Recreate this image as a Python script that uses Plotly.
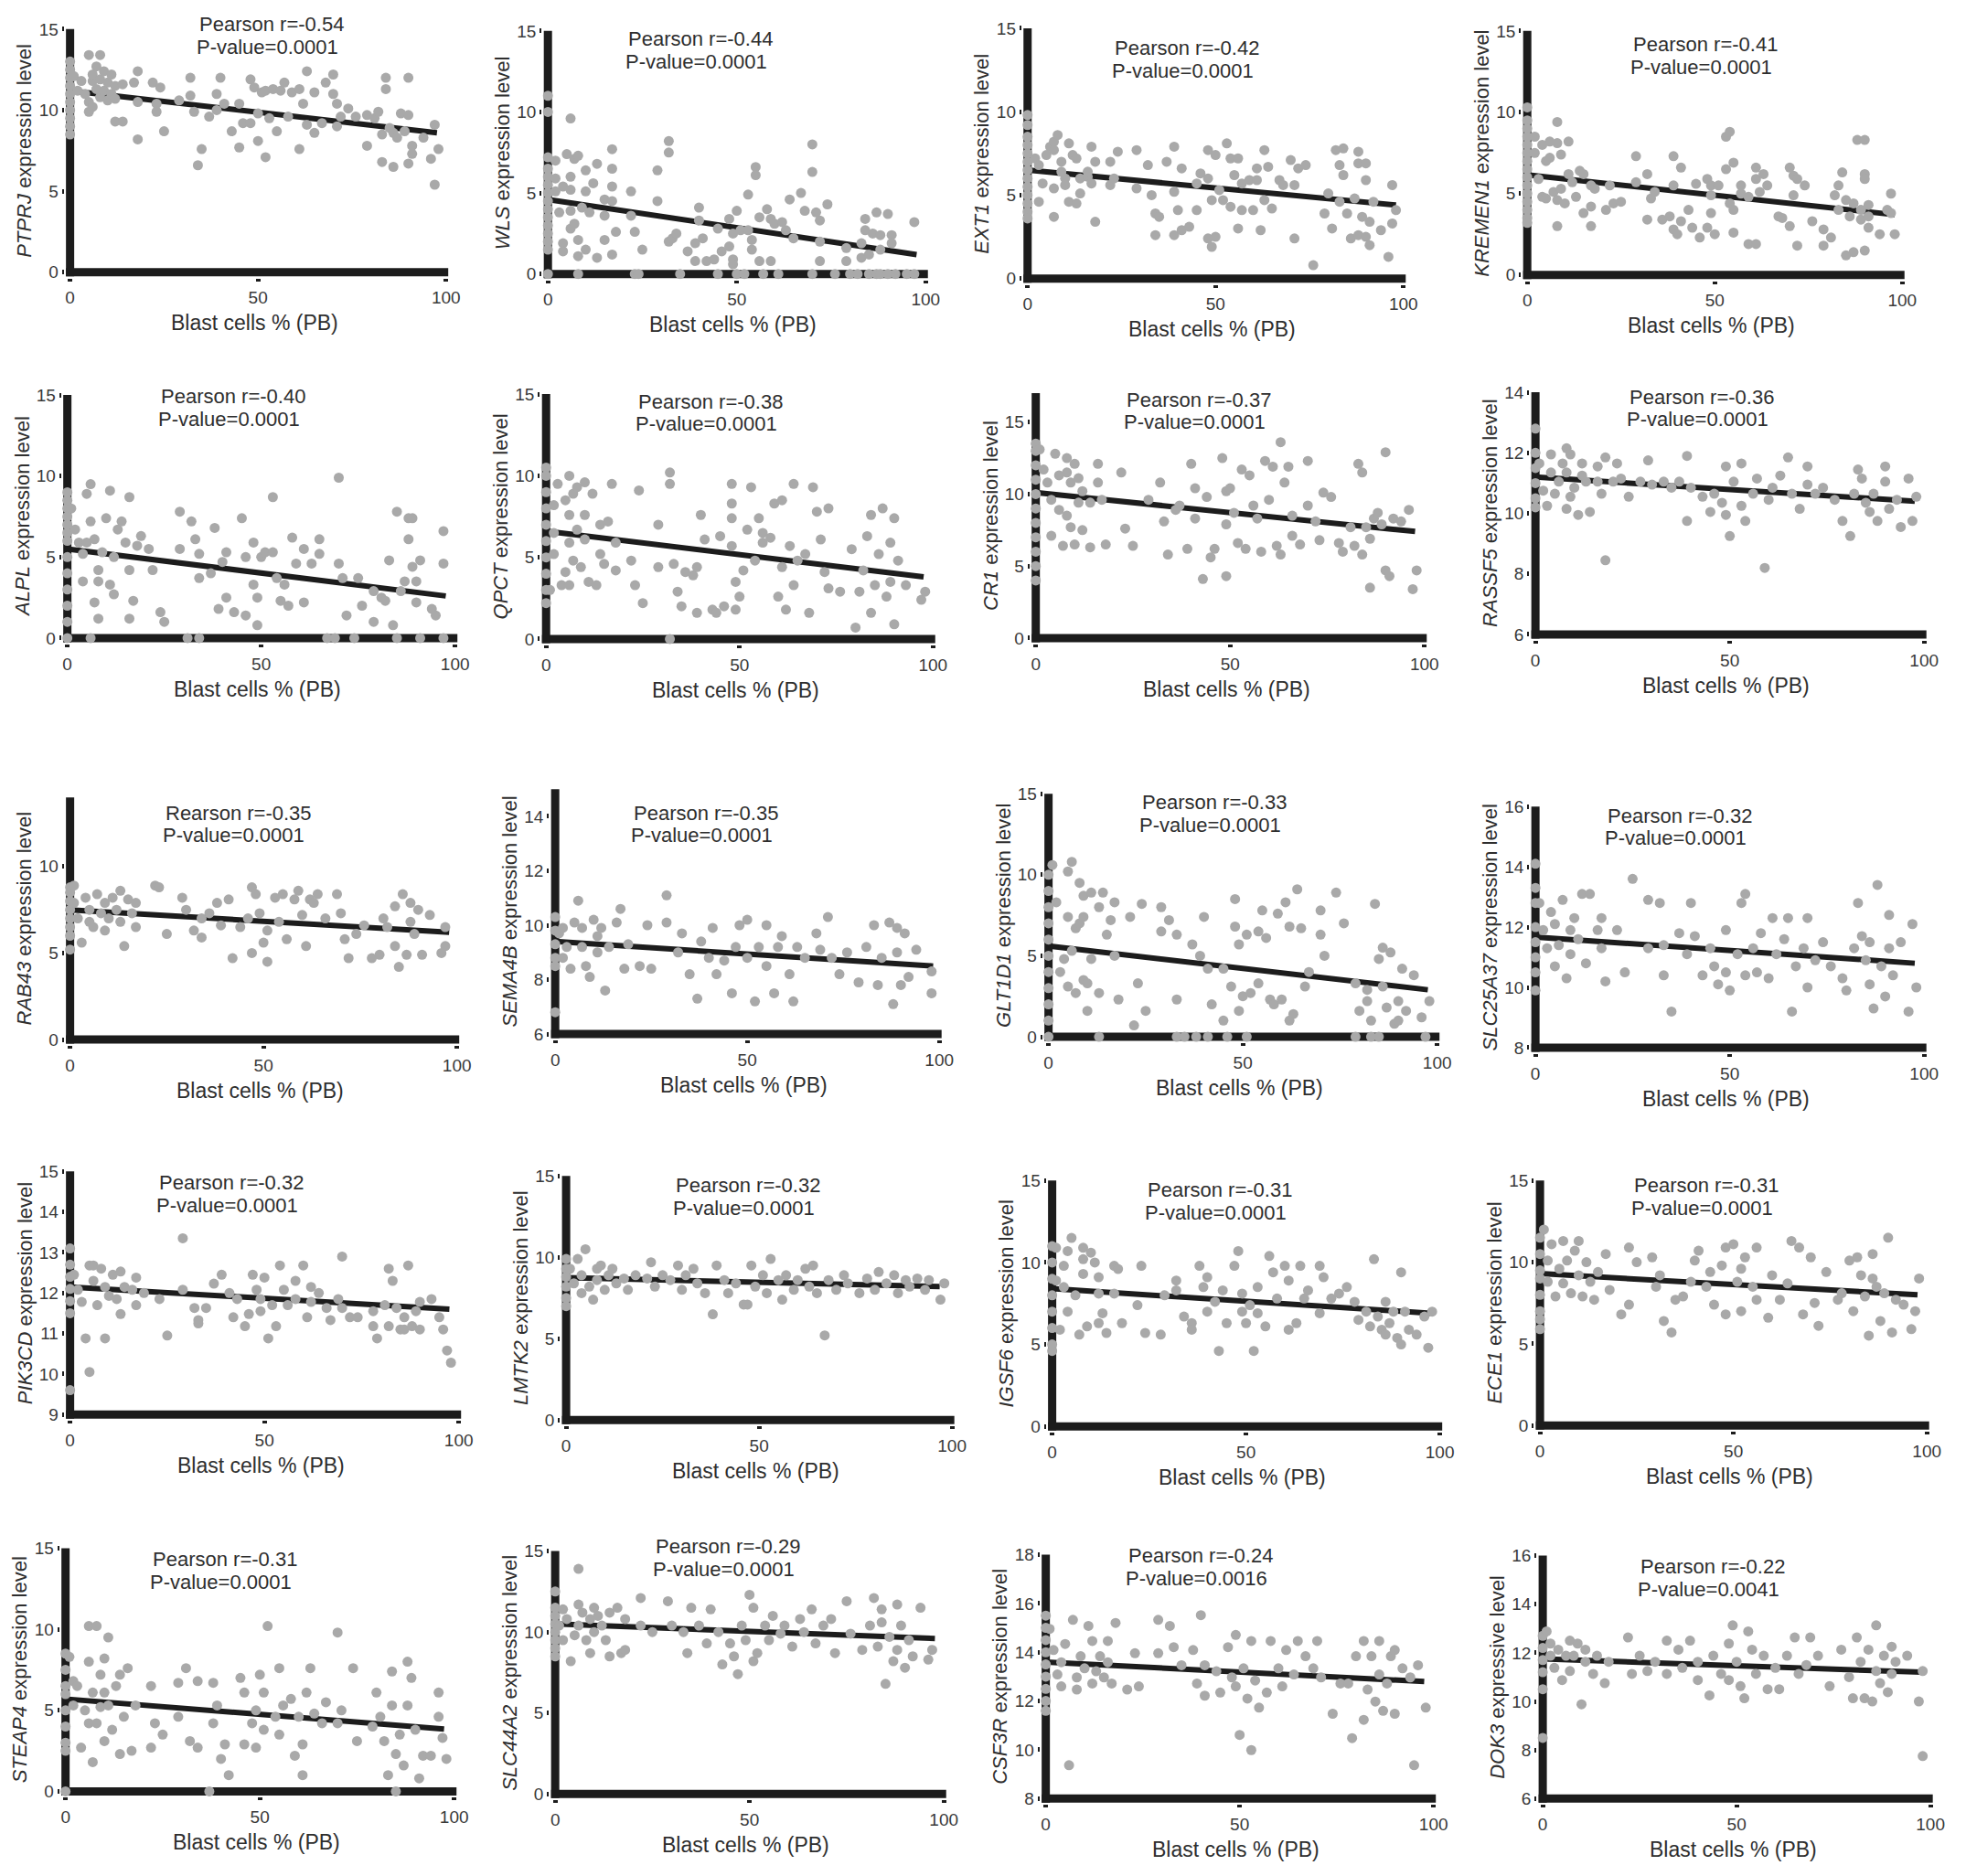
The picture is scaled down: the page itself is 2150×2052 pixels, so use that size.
import plotly.graph_objects as go

W, H = 2150, 2052

genes = ["PTPRJ", "WLS", "EXT1", "KREMEN1",
         "ALPL", "QPCT", "CR1", "RASSF5",
         "RAB43", "SEMA4B", "GLT1D1", "SLC25A37",
         "PIK3CD", "LMTK2", "IGSF6", "ECE1",
         "STEAP4", "SLC44A2", "CSF3R", "DOK3"]
y_suffix = ["expression level"] * 19 + ["expressive level"]
r_labels = ["Pearson r=-0.54", "Pearson r=-0.44", "Pearson r=-0.42", "Pearson r=-0.41",
            "Pearson r=-0.40", "Pearson r=-0.38", "Pearson r=-0.37", "Pearson r=-0.36",
            "Rearson r=-0.35", "Pearson r=-0.35", "Pearson r=-0.33", "Pearson r=-0.32",
            "Pearson r=-0.32", "Pearson r=-0.32", "Pearson r=-0.31", "Pearson r=-0.31",
            "Pearson r=-0.31", "Pearson r=-0.29", "Pearson r=-0.24", "Pearson r=-0.22"]
p_labels = ["P-value=0.0001"] * 18 + ["P-value=0.0016", "P-value=0.0041"]
x_ticks = [0, 50, 100]
x_title = "Blast cells % (PB)"

y_min = [0, 0, 0, 0, 0, 0, 0, 6, 0, 6, 0, 8, 9, 0, 0, 0, 0, 0, 8, 6]
y_max = [15, 15, 15, 15, 15, 15, 17, 14, 14, 15, 15, 16, 15, 15, 15, 15, 15, 15, 18, 16]
y_step = [5, 5, 5, 5, 5, 5, 5, 2, 5, 2, 5, 2, 1, 5, 5, 5, 5, 5, 2, 2]

# regression lines: y at x=0, end x, y at end x
fit_y0 = [11.2, 4.6, 6.5, 6.15, 5.5, 6.6, 10.1, 11.2, 7.5, 9.4,
          5.6, 11.67, 12.15, 8.75, 8.4, 9.3, 5.7, 10.5, 13.6, 11.75]
fit_x1 = [97.6, 97.6, 98, 98, 97.6, 97.6, 97.6, 97.6, 98, 98.4,
          97.6, 97.6, 97.6, 96.8, 97.6, 97.6, 97.4, 97.7, 97.6, 97.6]
fit_y1 = [8.6, 1.2, 4.4, 3.7, 2.6, 3.8, 7.4, 10.4, 6.2, 8.5,
          2.9, 10.8, 11.6, 8.2, 6.9, 8.0, 3.85, 9.6, 12.8, 11.2]

PTPRJ_pts = [(0, 13.0), (0, 12.5), (0, 12.0), (0, 11.5), (0, 11.0), (0, 10.5), (0, 10.0), (0, 9.5), (0, 9.0), (0, 8.5),
             (1, 12.1), (2, 11.2), (3, 11.8), (5, 13.4), (8, 13.4), (7, 12.7), (4, 11.0), (5, 10.5), (6, 11.8), (6, 12.2),
             (7, 11.3), (8, 10.8), (8, 11.9), (9, 12.4), (9, 11.2), (10, 10.6), (10, 11.7), (11, 12.2), (11, 11.0), (12, 10.7),
             (12, 11.5), (6, 10.2), (5, 9.9), (12, 9.3), (14, 9.3), (14, 11.6), (17, 11.7), (18, 12.4), (18, 10.5), (18, 8.2),
             (22, 11.7), (24, 11.4), (23, 10.4), (23, 9.9), (25, 8.7), (29, 10.6), (32, 12.0), (32, 10.9), (33, 9.9), (34, 6.6),
             (35, 7.6), (37, 9.6), (39, 11.0), (40, 12.0), (39, 10.0), (41, 10.4), (43, 8.7), (45, 10.4), (45, 7.7), (46, 9.2),
             (48, 11.9), (48, 9.2), (49, 11.4), (50, 9.8), (50, 8.1), (52, 7.1), (51, 11.1), (52, 11.2), (54, 11.3), (56, 11.2),
             (57, 11.7), (53, 9.5), (55, 8.7), (58, 9.6), (59, 11.1), (61, 11.3), (61, 7.6), (62, 10.4), (63, 12.4), (63, 9.1),
             (65, 11.1), (65, 8.6), (67, 9.2), (68, 11.7), (70, 12.2), (70, 11.0), (71, 10.4), (71, 9.0), (72, 9.6), (74, 10.1),
             (76, 9.6), (79, 9.7), (79, 7.8), (81, 9.5), (82, 9.9), (83, 8.5), (83, 6.8), (84, 12.0), (84, 11.3), (85, 8.9),
             (86, 8.6), (86, 6.5), (87, 8.3), (88, 9.8), (89, 8.7), (90, 12.0), (90, 9.7), (91, 7.8), (91, 7.3), (90, 6.7),
             (94, 8.3), (96, 7.0), (97, 9.1), (98, 7.6), (97, 5.4)]

WLS_pts = [(0, 11.0), (0, 10.0), (0, 7.2), (0, 6.5), (0, 6.0), (0, 5.5), (0, 5.0), (0, 4.5), (0, 4.0), (0, 3.5),
           (0, 3.0), (0, 2.5), (0, 2.0), (0, 1.5), (0, 0), (2, 7.0), (2, 5.9), (2, 5.1), (3, 3.8), (4, 1.9),
           (4, 1.4), (4, 5.4), (6, 5.2), (5, 7.4), (6, 9.6), (7, 7.1), (6, 6.0), (6, 3.9), (6, 2.8), (7, 3.1),
           (8, 7.3), (8, 2.1), (8, 1.1), (9, 4.1), (10, 6.4), (10, 1.5), (10, 5.1), (11, 3.8), (12, 5.6), (13, 6.8),
           (13, 1.0), (15, 3.6), (15, 2.1), (15, 4.6), (17, 6.5), (17, 5.4), (17, 7.7), (17, 4.5), (17, 1.2), (18, 2.6),
           (22, 5.1), (22, 3.6), (23, 2.6), (25, 1.5), (29, 6.4), (29, 4.5), (32, 8.2), (32, 7.5), (32, 2.0), (33, 2.2),
           (34, 2.5), (37, 1.4), (39, 1.9), (40, 4.1), (40, 3.3), (39, 0.8), (41, 2.2), (42, 0.8), (44, 0.9), (45, 2.8),
           (46, 1.4), (48, 3.4), (48, 1.7), (49, 2.5), (49, 0.9), (49, 0.6), (50, 3.9), (51, 2.7), (53, 4.9), (53, 2.7),
           (54, 1.5), (54, 2.1), (55, 6.6), (55, 6.1), (56, 3.5), (56, 0.8), (58, 4.0), (59, 0.8), (59, 3.4), (60, 3.1),
           (62, 3.2), (63, 2.7), (64, 4.6), (65, 2.2), (67, 5.0), (68, 3.9), (70, 8.0), (70, 6.3), (71, 3.8), (72, 2.0),
           (72, 3.3), (72, 0.8), (74, 4.3), (79, 1.6), (79, 0.8), (83, 1.9), (83, 1.0), (84, 3.4), (84, 2.7), (85, 1.2),
           (86, 2.5), (87, 3.8), (88, 2.4), (88, 1.5), (90, 3.7), (91, 2.4), (91, 1.9), (97, 3.2),
           (8, 0), (23, 0), (24, 0), (35, 0), (45, 0), (50, 0), (52, 0), (57, 0), (61, 0), (70, 0),
           (76, 0), (80, 0), (82, 0), (85, 0), (87, 0), (88, 0), (90, 0), (92, 0), (95, 0), (97, 0)]

EXT1_pts = [(0, 9.8), (0, 9.2), (0, 8.5), (0, 8.0), (0, 7.5), (0, 7.0), (0, 6.5), (0, 6.0), (0, 5.5), (0, 5.0),
            (0, 4.5), (0, 4.0), (0, 3.6), (2, 7.2), (3, 4.6), (3, 6.8), (4, 5.7), (5, 7.4), (6, 7.9), (7, 7.7),
            (7, 5.4), (7, 3.7), (7, 8.2), (8, 8.6), (9, 7.0), (9, 6.4), (10, 6.0), (10, 5.6), (11, 8.1), (12, 7.4),
            (11, 4.6), (13, 7.2), (13, 4.5), (14, 5.1), (14, 6.0), (16, 6.1), (16, 6.4), (17, 7.9), (17, 5.7), (18, 7.0),
            (18, 3.4), (22, 7.0), (22, 5.6), (23, 6.0), (24, 7.6), (29, 7.7), (29, 5.4), (32, 6.8), (33, 5.0), (34, 3.9),
            (34, 2.6), (35, 3.7), (37, 7.0), (39, 7.9), (39, 5.2), (39, 2.6), (40, 4.1), (41, 2.9), (41, 6.6), (43, 3.1),
            (45, 4.1), (45, 5.7), (46, 6.3), (48, 6.0), (48, 7.7), (48, 2.4), (49, 4.7), (49, 1.9), (50, 7.4), (50, 2.5),
            (51, 5.3), (52, 4.7), (53, 8.1), (54, 7.2), (54, 4.3), (55, 6.2), (56, 7.2), (56, 3.0), (57, 4.1), (57, 5.7),
            (59, 5.9), (60, 4.1), (61, 5.9), (61, 6.6), (62, 2.9), (63, 7.7), (63, 4.7), (64, 6.7), (65, 4.2), (67, 5.9),
            (68, 5.6), (70, 7.1), (71, 5.6), (71, 2.4), (72, 6.6), (74, 6.8), (76, 0.8), (79, 3.9), (80, 5.1), (81, 3.0),
            (82, 7.7), (83, 6.8), (83, 4.6), (84, 6.2), (84, 7.8), (85, 3.9), (86, 2.4), (87, 4.8), (88, 6.9), (88, 2.6),
            (88, 7.6), (89, 3.7), (90, 2.5), (90, 6.9), (90, 5.9), (91, 3.4), (91, 2.0), (92, 4.6), (94, 2.9), (96, 1.3),
            (97, 5.6), (97, 3.3), (98, 4.1)]

KREMEN1_pts = [(0, 10.3), (0, 9.5), (0, 9.0), (0, 8.5), (0, 8.0), (0, 7.5), (0, 7.0), (0, 6.5), (0, 6.0), (0, 5.5),
               (0, 5.0), (0, 4.5), (0, 4.0), (0, 3.5), (0, 3.2), (2, 8.5), (2, 7.5), (3, 5.9), (4, 4.8), (4, 8.0),
               (5, 7.0), (5, 4.7), (6, 8.2), (6, 7.2), (7, 5.1), (8, 9.4), (8, 3.0), (8, 8.1), (8, 4.6), (9, 7.4),
               (9, 5.3), (10, 4.4), (11, 8.2), (11, 6.2), (12, 5.7), (13, 4.8), (14, 6.4), (15, 3.8), (15, 6.2), (17, 3.0),
               (17, 5.5), (17, 4.2), (18, 5.3), (21, 4.0), (22, 5.5), (23, 4.4), (25, 4.5), (29, 7.3), (29, 5.7), (32, 6.2),
               (32, 3.4), (33, 4.7), (34, 5.1), (36, 3.4), (38, 3.6), (39, 7.3), (39, 5.5), (39, 2.8), (40, 2.5), (41, 6.6),
               (41, 3.3), (43, 4.0), (44, 2.9), (45, 5.6), (46, 2.3), (48, 5.9), (48, 2.9), (49, 4.9), (49, 3.8), (49, 5.5),
               (50, 2.5), (51, 5.5), (53, 8.5), (53, 6.5), (54, 8.8), (55, 6.9), (54, 4.4), (55, 2.6), (55, 4.0), (57, 5.0),
               (57, 5.5), (59, 4.8), (59, 1.9), (61, 1.9), (61, 6.6), (61, 5.9), (62, 5.1), (63, 6.2), (64, 5.5), (67, 3.6),
               (68, 3.5), (70, 6.6), (70, 3.0), (71, 4.9), (71, 6.1), (72, 1.8), (72, 5.9), (74, 5.5), (76, 3.3), (79, 2.8),
               (79, 1.8), (81, 2.3), (82, 4.9), (83, 4.0), (83, 5.5), (84, 6.3), (85, 4.6), (85, 1.2), (86, 3.6), (87, 1.4),
               (87, 4.4), (88, 8.3), (89, 3.4), (89, 4.0), (90, 8.3), (90, 6.2), (90, 1.5), (90, 5.9), (91, 4.3), (91, 2.9),
               (91, 3.6), (94, 2.5), (96, 4.0), (97, 5.0), (98, 2.5), (97, 3.8)]

ALPL_pts = [(0, 9.0), (0, 8.5), (0, 8.0), (0, 7.5), (0, 7.0), (0, 6.5), (0, 6.0), (0, 5.0), (0, 4.0), (0, 3.0),
            (0, 2.0), (0, 1.0), (0, 0), (1, 8.0), (2, 6.7), (3, 5.9), (4, 5.2), (4, 3.5), (5, 5.9), (5, 8.9),
            (6, 9.5), (6, 7.2), (7, 6.1), (7, 2.2), (8, 4.2), (8, 1.2), (8, 3.5), (9, 5.3), (10, 7.4), (11, 9.1),
            (11, 3.3), (12, 5.0), (12, 2.7), (13, 6.7), (14, 7.2), (15, 5.9), (16, 8.7), (16, 1.2), (16, 4.2), (17, 2.3),
            (18, 5.7), (19, 6.3), (21, 5.5), (22, 4.2), (24, 1.6), (25, 1.0), (29, 7.8), (29, 5.5), (32, 7.2), (33, 6.1),
            (34, 5.2), (34, 3.7), (37, 4.0), (38, 6.8), (39, 1.8), (40, 4.7), (41, 2.5), (41, 5.3), (43, 1.6), (45, 7.4),
            (46, 1.4), (46, 5.0), (48, 5.9), (48, 3.3), (49, 2.5), (49, 0.8), (50, 5.0), (51, 5.3), (53, 8.7), (53, 5.3),
            (54, 3.7), (55, 2.3), (56, 3.3), (57, 2.0), (58, 6.2), (59, 4.6), (61, 2.2), (61, 5.5), (63, 4.6), (65, 6.1),
            (65, 5.2), (70, 9.9), (70, 4.6), (71, 3.7), (72, 1.4), (75, 3.7), (76, 2.0), (79, 2.9), (79, 1.0), (81, 2.5),
            (82, 2.3), (83, 4.8), (84, 0.8), (85, 7.8), (86, 2.9), (87, 3.5), (88, 7.4), (88, 6.1), (89, 7.4), (89, 4.4),
            (90, 3.5), (90, 2.2), (91, 4.8), (94, 1.8), (95, 1.4), (97, 4.6), (97, 6.6),
            (6, 0), (31, 0), (34, 0), (67, 0), (69, 0), (74, 0), (85, 0), (91, 0), (97, 0)]

QPCT_pts = [(0, 10.5), (0, 10.0), (0, 9.0), (0, 8.0), (0, 7.0), (0, 6.0), (0, 5.0), (0, 4.0), (0, 3.0), (0, 2.2),
            (1, 3.0), (2, 8.2), (2, 6.5), (2, 5.2), (3, 9.5), (4, 3.3), (5, 8.5), (5, 4.1), (6, 7.6), (6, 5.9),
            (6, 10.0), (6, 3.3), (7, 8.9), (7, 4.8), (8, 6.7), (8, 9.3), (9, 4.4), (10, 7.6), (10, 6.1), (10, 9.6),
            (11, 3.5), (12, 8.9), (13, 3.3), (14, 5.2), (14, 7.0), (15, 4.6), (16, 7.2), (17, 9.5), (18, 5.9), (18, 4.2),
            (22, 4.8), (23, 3.3), (24, 9.1), (25, 2.2), (29, 7.0), (29, 4.4), (32, 10.2), (32, 9.5), (33, 4.6), (34, 2.9),
            (35, 2.0), (36, 4.1), (38, 3.9), (39, 1.6), (39, 4.4), (40, 7.6), (41, 6.1), (43, 1.8), (44, 1.6), (45, 6.3),
            (46, 2.0), (48, 9.5), (48, 7.4), (48, 8.3), (48, 5.7), (49, 3.5), (49, 1.8), (50, 2.6), (51, 4.2), (52, 6.7),
            (53, 9.3), (54, 4.8), (55, 7.4), (56, 6.5), (56, 5.9), (58, 6.2), (59, 8.3), (60, 2.6), (61, 8.5), (61, 4.4),
            (62, 1.8), (63, 5.7), (64, 9.5), (64, 3.3), (65, 4.8), (67, 5.2), (68, 1.6), (69, 9.3), (70, 7.8), (71, 6.1),
            (72, 4.1), (73, 8.0), (73, 3.1), (76, 2.9), (79, 5.5), (80, 0.7), (81, 2.9), (82, 4.2), (83, 6.3), (84, 1.6),
            (84, 7.6), (85, 3.3), (86, 5.2), (87, 8.0), (88, 2.6), (89, 5.9), (89, 3.5), (90, 7.4), (90, 0.9), (91, 4.8),
            (93, 3.3), (97, 2.4), (98, 2.9), (32, 0)]

CR1_pts = [(0, 13.5), (0, 13.0), (0, 12.0), (0, 11.0), (0, 10.0), (0, 9.0), (0, 8.0), (0, 7.0), (0, 6.0), (0, 5.0),
           (0, 4.0), (1, 13.1), (2, 11.7), (3, 10.8), (4, 9.6), (4, 7.1), (5, 12.8), (6, 11.3), (6, 8.9), (7, 6.4),
           (8, 12.5), (8, 11.5), (8, 8.5), (9, 10.8), (9, 7.7), (10, 12.1), (10, 6.5), (11, 11.1), (11, 9.4), (12, 10.2),
           (12, 7.5), (14, 9.4), (14, 6.3), (16, 12.1), (16, 10.8), (17, 9.6), (18, 6.5), (22, 11.5), (23, 7.6), (25, 6.4),
           (29, 9.6), (32, 10.8), (33, 8.1), (34, 5.8), (36, 8.9), (37, 9.2), (39, 6.2), (40, 12.1), (41, 10.4), (41, 8.3),
           (43, 4.1), (44, 9.8), (45, 5.6), (46, 6.2), (48, 12.5), (49, 10.2), (49, 4.3), (49, 7.9), (50, 10.4), (51, 8.7),
           (52, 6.6), (53, 11.7), (54, 6.2), (55, 11.3), (56, 9.2), (57, 8.3), (58, 6.0), (59, 12.3), (60, 9.6), (61, 11.9),
           (62, 6.4), (63, 5.8), (63, 13.6), (64, 10.8), (65, 11.9), (66, 8.5), (66, 7.1), (68, 6.5), (70, 12.3), (70, 9.2),
           (72, 8.1), (73, 6.8), (74, 10.1), (76, 9.8), (78, 6.6), (79, 6.0), (81, 7.7), (82, 6.4), (83, 12.1), (84, 11.5),
           (84, 5.8), (85, 7.7), (86, 3.5), (86, 6.9), (87, 8.3), (88, 8.7), (89, 7.9), (90, 12.9), (90, 4.7), (91, 4.3),
           (92, 8.3), (94, 8.1), (96, 8.9), (98, 4.7), (97, 3.4)]

RASSF5_pts = [(0, 12.8), (0, 12.0), (0, 11.5), (0, 11.0), (0, 10.5), (0, 10.2), (1, 11.65), (2, 10.75), (3, 10.25), (4, 11.35),
              (4, 11.95), (5, 10.65), (6, 11.05), (7, 11.65), (8, 12.15), (8, 10.15), (8, 11.35), (9, 11.95), (9, 10.55), (10, 10.85),
              (11, 9.95), (12, 11.65), (12, 11.25), (13, 11.05), (14, 10.05), (16, 11.55), (16, 11.05), (17, 10.65), (18, 8.45), (18, 11.85),
              (20, 11.05), (21, 11.65), (22, 11.15), (24, 10.55), (27, 11.05), (29, 11.75), (30, 10.95), (33, 11.05), (35, 10.85), (37, 11.05),
              (39, 11.9), (39, 9.75), (40, 10.85), (43, 10.55), (45, 10.05), (46, 10.65), (48, 10.35), (49, 9.95), (49, 11.55), (50, 9.25),
              (51, 11.05), (53, 10.25), (53, 11.65), (54, 9.75), (56, 10.65), (57, 11.15), (59, 8.2), (60, 10.45), (61, 10.85), (63, 11.25),
              (65, 11.85), (66, 10.65), (68, 10.15), (70, 10.95), (70, 11.55), (72, 10.65), (74, 10.85), (77, 10.45), (79, 9.75), (81, 9.25),
              (82, 10.65), (83, 11.45), (84, 11.15), (85, 10.35), (86, 10.05), (87, 10.65), (88, 9.75), (90, 11.05), (90, 11.55), (91, 10.15),
              (93, 10.45), (94, 9.55), (96, 11.15), (97, 9.75), (98, 10.55)]

RAB43_pts = [(0, 8.8), (0, 8.5), (0, 8.0), (0, 7.5), (0, 7.0), (0, 6.5), (0, 6.0), (0, 5.2), (1, 8.9), (1, 7.9),
             (2, 7.0), (3, 5.6), (4, 8.2), (5, 6.8), (5, 7.5), (6, 6.5), (7, 8.4), (8, 7.3), (9, 6.3), (9, 7.9),
             (10, 7.0), (11, 8.2), (12, 7.5), (13, 6.8), (13, 8.6), (14, 5.4), (15, 8.1), (16, 7.3), (17, 6.5), (17, 7.9),
             (22, 8.9), (23, 8.8), (25, 6.1), (29, 8.2), (30, 7.5), (32, 6.3), (34, 5.9), (34, 7.0), (36, 7.3), (38, 7.9),
             (39, 6.6), (41, 8.1), (42, 4.7), (44, 6.5), (46, 7.0), (47, 5.0), (47, 8.8), (48, 8.4), (49, 7.3), (50, 5.6),
             (51, 6.3), (51, 4.5), (53, 8.2), (54, 6.8), (55, 8.4), (56, 5.8), (58, 8.1), (59, 8.6), (60, 7.2), (61, 5.4),
             (62, 8.1), (63, 7.9), (64, 8.4), (66, 7.0), (69, 8.4), (70, 7.3), (71, 5.8), (72, 4.7), (74, 6.1), (76, 6.6),
             (78, 4.7), (80, 4.9), (81, 7.0), (82, 6.5), (84, 5.4), (84, 7.7), (85, 4.2), (86, 8.4), (87, 4.9), (88, 6.8),
             (88, 7.9), (89, 6.1), (90, 7.5), (91, 4.9), (93, 7.2), (96, 5.0), (97, 6.5), (97, 5.4)]

SEMA4B_pts = [(0, 10.3), (0, 9.8), (0, 9.3), (0, 8.8), (0, 8.5), (0, 6.8), (1, 9.7), (2, 8.8), (2, 9.9), (3, 9.2),
              (4, 8.4), (5, 10.1), (6, 10.9), (7, 9.2), (7, 9.9), (8, 8.5), (9, 8.1), (10, 10.2), (11, 9.6), (11, 9.0),
              (12, 9.9), (13, 7.6), (14, 9.2), (16, 10.1), (17, 10.6), (18, 8.4), (19, 9.3), (22, 8.5), (24, 10.0), (25, 8.4),
              (29, 11.1), (29, 10.1), (32, 9.0), (33, 9.7), (35, 8.2), (37, 7.3), (38, 9.4), (40, 8.8), (41, 9.9), (42, 8.2),
              (44, 8.7), (46, 7.5), (47, 9.2), (48, 10.0), (50, 8.8), (50, 10.2), (52, 7.2), (53, 9.2), (55, 10.0), (55, 8.5),
              (57, 7.5), (58, 9.2), (59, 9.6), (61, 8.2), (62, 7.2), (63, 9.2), (65, 8.8), (68, 9.7), (69, 9.1), (71, 10.3),
              (72, 8.8), (74, 8.2), (76, 9.0), (79, 7.9), (81, 9.2), (83, 10.0), (84, 7.8), (85, 8.8), (87, 10.1), (88, 7.1),
              (89, 9.0), (89, 9.9), (90, 7.8), (91, 9.7), (92, 8.1), (94, 9.1), (98, 7.5), (98, 8.3)]

GLT1D1_pts = [(0, 10.0), (0, 9.0), (0, 8.0), (0, 7.0), (0, 6.0), (0, 5.0), (0, 4.0), (0, 3.0), (0, 2.0), (0, 1.0),
              (0, 0), (1, 10.6), (2, 8.3), (3, 4.0), (4, 4.8), (5, 10.2), (5, 7.4), (5, 3.1), (6, 10.8), (6, 5.3),
              (7, 6.7), (7, 2.7), (8, 9.5), (8, 7.0), (9, 8.7), (9, 3.5), (9, 7.4), (10, 1.6), (10, 3.3), (11, 8.9),
              (11, 4.8), (13, 8.0), (13, 2.7), (14, 8.9), (15, 6.3), (16, 7.2), (17, 8.3), (17, 5.0), (18, 2.3), (21, 7.4),
              (22, 0.7), (23, 3.3), (24, 8.2), (25, 1.6), (29, 8.0), (29, 6.5), (31, 7.2), (33, 6.3), (33, 2.3), (37, 5.7),
              (39, 5.0), (40, 7.4), (41, 4.2), (42, 2.0), (45, 4.2), (45, 1.0), (47, 3.1), (48, 8.5), (48, 6.8), (49, 1.6),
              (49, 5.7), (50, 2.5), (51, 6.3), (52, 2.7), (54, 3.3), (54, 6.5), (55, 7.8), (56, 6.1), (57, 2.3), (58, 2.0),
              (59, 7.6), (60, 2.3), (61, 8.3), (62, 1.0), (62, 6.8), (63, 1.4), (64, 9.1), (65, 6.7), (66, 3.1), (67, 4.0),
              (70, 7.8), (70, 6.3), (71, 5.0), (74, 8.9), (76, 7.0), (79, 3.3), (80, 1.6), (82, 2.2), (82, 2.9), (83, 1.0),
              (84, 8.2), (85, 4.8), (86, 5.5), (86, 3.1), (87, 1.8), (88, 5.2), (89, 0.8), (90, 2.2), (90, 1.0), (91, 4.2),
              (92, 1.6), (94, 3.8), (96, 1.2), (98, 2.2),
              (13, 0), (33, 0), (35, 0), (38, 0), (41, 0), (46, 0), (51, 0), (79, 0), (83, 0), (85, 0), (97, 0)]

SLC25A37_pts = [(0, 14.1), (0, 13.3), (0, 12.8), (0, 12.0), (0, 11.5), (0, 11.0), (0, 10.5), (0, 9.9), (1, 12.8), (2, 11.9),
                (3, 11.3), (4, 12.5), (5, 10.7), (5, 12.1), (6, 11.4), (7, 12.9), (8, 10.3), (9, 11.9), (9, 11.1), (10, 12.3),
                (11, 11.6), (12, 13.1), (13, 10.8), (14, 13.1), (16, 11.9), (17, 11.3), (17, 12.3), (18, 10.2), (21, 11.9), (23, 10.5),
                (25, 13.6), (29, 12.9), (29, 11.3), (32, 12.8), (33, 11.4), (33, 10.4), (35, 9.2), (37, 11.8), (39, 11.1), (40, 12.8),
                (41, 11.7), (43, 10.4), (45, 11.3), (46, 10.7), (47, 10.1), (49, 11.9), (49, 10.5), (50, 9.9), (52, 11.1), (53, 12.8),
                (54, 10.4), (54, 13.1), (56, 11.3), (57, 10.5), (58, 11.8), (60, 10.3), (61, 12.3), (62, 11.1), (64, 11.6), (65, 12.3),
                (66, 9.2), (67, 10.7), (69, 11.3), (70, 12.3), (70, 10.0), (72, 10.9), (74, 11.5), (76, 10.7), (79, 10.3), (80, 9.9),
                (82, 11.3), (83, 12.8), (84, 11.7), (85, 10.9), (86, 10.1), (86, 11.5), (87, 9.3), (88, 13.4), (89, 10.7), (90, 9.7),
                (91, 12.4), (91, 11.3), (92, 10.4), (94, 11.5), (96, 9.2), (97, 12.1), (98, 10.0)]

PIK3CD_pts = [(0, 13.1), (0, 12.7), (0, 12.4), (0, 12.1), (0, 11.8), (0, 11.5), (0, 9.6), (1, 12.45), (2, 12.08), (3, 11.78),
              (4, 10.88), (5, 12.68), (5, 10.05), (6, 12.3), (6, 12.68), (7, 11.7), (8, 12.6), (9, 12.15), (9, 10.88), (10, 11.93),
              (11, 12.45), (12, 11.85), (13, 11.48), (13, 12.53), (14, 12.15), (16, 12.08), (17, 12.38), (17, 11.7), (19, 12.0), (23, 11.85),
              (25, 10.95), (29, 13.35), (29, 12.08), (32, 11.63), (33, 11.33), (33, 11.25), (35, 11.63), (37, 12.23), (39, 12.45), (41, 12.0),
              (42, 11.4), (43, 11.85), (45, 11.18), (46, 11.48), (47, 12.45), (48, 12.08), (49, 11.85), (49, 11.55), (50, 12.38), (51, 10.88),
              (52, 11.7), (53, 11.18), (54, 12.68), (55, 12.08), (56, 11.7), (58, 12.3), (58, 11.85), (60, 12.68), (61, 11.4), (62, 12.15),
              (62, 11.78), (64, 12.0), (66, 11.63), (67, 11.33), (69, 11.85), (70, 12.9), (70, 11.63), (72, 11.4), (74, 11.4), (78, 11.55),
              (78, 11.18), (79, 10.88), (81, 11.7), (82, 12.6), (82, 11.18), (83, 12.3), (84, 11.63), (85, 11.1), (86, 11.4), (86, 11.1),
              (87, 12.68), (88, 11.18), (89, 11.55), (90, 11.78), (90, 11.1), (93, 11.85), (95, 11.4), (96, 11.1), (97, 10.58), (98, 10.28)]

LMTK2_pts = [(0, 9.9), (0, 9.3), (0, 8.8), (0, 8.2), (0, 7.5), (0, 7.0), (1, 9.3), (2, 8.4), (3, 9.9), (4, 7.8),
             (4, 8.9), (5, 10.5), (6, 8.2), (7, 7.4), (8, 9.3), (8, 8.6), (9, 9.5), (10, 8.0), (11, 8.9), (12, 9.3),
             (13, 8.4), (15, 8.7), (16, 8.0), (18, 8.9), (21, 8.7), (22, 9.7), (23, 8.2), (25, 8.9), (27, 8.6), (29, 9.5),
             (30, 8.0), (31, 8.9), (33, 9.3), (34, 8.4), (36, 7.8), (38, 6.5), (39, 9.5), (41, 8.6), (42, 7.8), (44, 8.4),
             (46, 7.1), (47, 7.1), (48, 9.5), (49, 8.2), (51, 8.9), (52, 7.8), (53, 9.9), (55, 8.6), (56, 7.4), (57, 8.9),
             (59, 8.0), (60, 8.6), (62, 9.3), (63, 8.2), (64, 9.5), (65, 7.8), (67, 5.2), (68, 8.6), (70, 8.0), (72, 8.9),
             (73, 8.4), (76, 7.8), (78, 8.7), (80, 8.0), (81, 9.1), (83, 8.4), (85, 8.9), (86, 7.8), (88, 8.6), (89, 8.2),
             (91, 8.7), (93, 8.0), (94, 8.6), (97, 7.4), (98, 8.4)]

IGSF6_pts = [(0, 11.0), (0, 10.0), (0, 9.0), (0, 8.0), (0, 7.0), (0, 6.0), (0, 5.0), (0, 4.6), (1, 10.9), (1, 8.9),
             (2, 5.9), (3, 9.8), (3, 8.5), (4, 10.7), (4, 7.0), (5, 11.5), (6, 8.0), (7, 5.6), (8, 10.2), (8, 10.9),
             (8, 9.3), (9, 6.1), (10, 10.6), (11, 10.0), (12, 8.1), (12, 6.3), (12, 9.1), (13, 6.9), (14, 5.7), (16, 9.8),
             (16, 8.1), (17, 9.6), (18, 6.3), (22, 7.4), (23, 9.8), (24, 5.7), (28, 5.6), (29, 8.0), (32, 8.3), (32, 8.9),
             (34, 6.7), (36, 6.3), (36, 5.9), (38, 9.8), (39, 8.5), (40, 7.0), (40, 9.1), (42, 7.6), (43, 4.6), (44, 8.3),
             (45, 6.3), (47, 9.8), (48, 10.7), (49, 7.0), (49, 8.1), (50, 6.3), (51, 7.4), (52, 4.6), (53, 8.5), (53, 6.9),
             (55, 6.1), (56, 10.4), (57, 9.4), (58, 7.8), (60, 9.8), (61, 5.9), (61, 8.9), (63, 6.3), (64, 9.8), (65, 7.8),
             (66, 8.3), (69, 6.9), (69, 9.8), (70, 9.1), (72, 7.8), (74, 8.1), (76, 8.5), (78, 7.6), (79, 6.5), (81, 7.0),
             (82, 6.1), (83, 10.2), (84, 6.7), (85, 5.9), (86, 7.6), (86, 5.6), (87, 6.3), (88, 7.0), (89, 5.4), (90, 9.4),
             (90, 5.0), (91, 7.0), (92, 5.9), (94, 5.6), (96, 6.7), (97, 4.8), (98, 7.0)]

ECE1_pts = [(0, 11.5), (0, 10.5), (0, 9.5), (0, 9.0), (0, 8.0), (0, 7.0), (0, 6.5), (0, 5.9), (1, 12.0), (2, 10.1),
            (2, 8.8), (3, 11.1), (4, 7.9), (5, 9.6), (6, 11.3), (6, 8.7), (7, 10.1), (8, 8.1), (9, 10.7), (10, 9.2),
            (10, 11.3), (11, 7.9), (12, 10.0), (13, 8.8), (14, 7.7), (15, 9.4), (17, 10.5), (18, 8.3), (21, 6.8), (23, 10.9),
            (23, 7.4), (25, 10.0), (29, 10.3), (30, 8.5), (31, 9.2), (32, 6.4), (34, 5.7), (35, 7.7), (37, 7.9), (39, 8.8),
            (40, 10.1), (41, 10.7), (43, 8.5), (44, 9.4), (45, 7.4), (47, 9.8), (48, 6.8), (48, 10.9), (50, 11.1), (51, 8.8),
            (52, 7.0), (52, 9.6), (53, 10.3), (55, 8.5), (56, 10.9), (56, 7.7), (59, 6.6), (60, 9.2), (62, 7.7), (64, 8.7),
            (65, 11.3), (67, 10.9), (68, 6.8), (70, 10.3), (71, 7.5), (72, 6.1), (74, 9.4), (77, 7.7), (78, 8.1), (80, 10.1),
            (81, 7.0), (82, 10.3), (83, 9.2), (84, 7.9), (85, 5.5), (86, 10.5), (86, 9.0), (87, 8.5), (88, 6.4), (89, 8.1),
            (90, 11.5), (91, 5.7), (92, 7.7), (94, 7.4), (96, 5.9), (97, 7.0), (98, 9.0)]

STEAP4_pts = [(0, 8.5), (0, 7.5), (0, 6.5), (0, 6.0), (0, 5.0), (0, 4.0), (0, 3.0), (0, 2.5), (0, 0), (1, 8.3),
              (2, 6.8), (2, 5.3), (3, 6.5), (4, 2.7), (5, 5.0), (6, 10.2), (6, 4.2), (6, 8.0), (7, 1.8), (7, 6.1),
              (8, 10.2), (8, 4.2), (9, 7.2), (9, 5.2), (10, 6.1), (10, 8.2), (10, 3.1), (11, 9.5), (11, 5.3), (12, 3.8),
              (13, 6.5), (14, 2.3), (14, 7.2), (15, 4.6), (16, 7.6), (17, 2.5), (18, 5.3), (22, 6.5), (22, 2.7), (23, 4.2),
              (25, 3.5), (29, 6.7), (29, 4.6), (31, 7.6), (32, 3.1), (34, 2.7), (34, 6.8), (38, 6.7), (38, 4.2), (39, 5.3),
              (40, 2.0), (41, 2.9), (42, 1.0), (45, 7.0), (46, 6.1), (46, 2.9), (48, 4.2), (49, 2.7), (49, 5.0), (50, 7.2),
              (51, 3.8), (51, 6.1), (52, 10.2), (54, 4.6), (55, 7.6), (55, 3.5), (56, 5.3), (58, 5.7), (59, 2.2), (60, 4.6),
              (61, 1.0), (61, 2.9), (62, 6.1), (63, 7.6), (64, 4.8), (66, 4.2), (67, 5.5), (70, 9.8), (70, 4.2), (71, 5.0),
              (74, 7.6), (75, 3.1), (79, 4.0), (80, 6.1), (81, 4.6), (82, 3.1), (83, 1.0), (84, 7.4), (84, 5.3), (85, 2.3),
              (86, 3.5), (87, 1.6), (88, 8.0), (88, 5.3), (89, 7.0), (90, 3.8), (91, 0.8), (92, 2.2), (94, 2.2), (96, 4.6),
              (96, 6.1), (97, 3.3), (98, 2.0), (37, 0), (85, 0)]

SLC44A2_pts = [(0, 12.5), (0, 11.5), (0, 11.0), (0, 10.5), (0, 10.0), (0, 9.5), (0, 9.0), (0, 8.5), (1, 10.4), (2, 11.4),
               (2, 9.5), (3, 10.8), (4, 8.2), (5, 9.8), (6, 11.7), (6, 13.9), (6, 10.4), (7, 11.2), (8, 9.5), (9, 10.8),
               (9, 8.7), (10, 11.5), (10, 10.0), (11, 11.0), (12, 10.4), (13, 9.5), (14, 11.2), (14, 8.5), (16, 11.5), (17, 8.7),
               (18, 10.8), (18, 8.9), (22, 12.1), (22, 10.4), (25, 10.0), (29, 11.9), (30, 10.4), (33, 10.0), (34, 8.7), (35, 11.5),
               (37, 10.4), (39, 9.3), (40, 11.4), (42, 10.0), (43, 8.0), (45, 9.3), (46, 8.5), (47, 7.4), (48, 10.4), (49, 9.5),
               (50, 12.3), (51, 8.2), (51, 11.5), (52, 8.7), (54, 10.4), (55, 9.5), (56, 11.0), (58, 9.9), (59, 10.4), (61, 9.1),
               (63, 10.8), (64, 10.0), (66, 11.4), (67, 9.3), (69, 10.4), (71, 10.8), (72, 8.7), (75, 11.9), (76, 9.9), (79, 8.9),
               (81, 10.4), (82, 12.1), (83, 9.1), (84, 10.6), (84, 11.4), (85, 6.8), (86, 9.7), (87, 8.2), (88, 11.7), (88, 8.9),
               (89, 10.4), (90, 7.8), (91, 9.5), (92, 8.5), (94, 11.5), (96, 8.3), (97, 8.9)]

CSF3R_pts = [(0, 15.5), (0, 15.0), (0, 14.5), (0, 14.0), (0, 13.5), (0, 13.0), (0, 12.5), (0, 12.0), (0, 11.6), (1, 14.96),
             (2, 14.09), (3, 13.09), (4, 12.6), (4, 13.59), (5, 14.34), (6, 9.37), (7, 15.33), (8, 12.97), (8, 12.47), (9, 13.84),
             (10, 13.34), (11, 15.08), (12, 12.72), (12, 14.46), (13, 13.22), (14, 13.84), (15, 12.97), (16, 13.59), (16, 14.46), (17, 12.72),
             (18, 15.2), (21, 12.47), (23, 13.96), (24, 12.6), (29, 15.33), (29, 13.96), (32, 15.08), (33, 14.21), (35, 13.47), (38, 14.09),
             (39, 12.72), (40, 15.52), (41, 13.47), (41, 12.22), (44, 13.22), (45, 12.35), (47, 14.21), (48, 12.97), (49, 12.6), (49, 14.71),
             (50, 10.61), (51, 13.34), (52, 12.1), (53, 9.99), (53, 14.46), (54, 12.84), (55, 11.73), (57, 12.35), (58, 14.46), (60, 13.34),
             (61, 12.6), (62, 14.09), (64, 13.09), (65, 14.46), (67, 13.84), (69, 13.34), (70, 14.46), (71, 12.97), (74, 11.48), (76, 12.72),
             (78, 12.72), (79, 10.48), (80, 13.84), (82, 11.23), (82, 14.46), (83, 12.47), (84, 13.84), (85, 11.98), (86, 14.46), (86, 13.09),
             (87, 11.6), (88, 12.72), (89, 13.84), (90, 11.48), (90, 14.09), (92, 13.34), (94, 12.97), (95, 9.37), (96, 13.47), (98, 11.73)]

DOK3_pts = [(0, 12.7), (0, 12.2), (0, 11.7), (0, 11.2), (0, 10.5), (0, 8.5), (1, 12.88), (2, 11.88), (2, 12.38), (3, 11.38),
            (4, 12.13), (5, 10.88), (6, 11.88), (7, 12.5), (7, 11.25), (8, 11.88), (9, 12.38), (10, 9.88), (11, 11.63), (11, 12.13),
            (13, 11.13), (14, 11.88), (16, 10.75), (17, 11.63), (22, 12.63), (23, 11.13), (25, 11.88), (27, 11.25), (29, 11.63), (32, 12.5),
            (32, 11.13), (35, 12.13), (36, 11.38), (38, 12.5), (40, 11.63), (40, 10.88), (43, 10.25), (44, 11.88), (46, 11.13), (48, 12.38),
            (48, 10.88), (49, 13.13), (50, 11.63), (51, 10.63), (52, 10.13), (53, 12.88), (54, 12.13), (55, 11.13), (57, 11.88), (58, 10.5),
            (60, 11.38), (61, 10.5), (63, 11.88), (65, 12.63), (66, 11.13), (68, 11.5), (69, 12.63), (71, 11.88), (74, 10.63), (77, 12.13),
            (79, 11.0), (80, 10.13), (81, 12.63), (82, 11.63), (83, 10.13), (84, 12.13), (85, 10.0), (86, 11.25), (86, 13.13), (87, 10.75),
            (88, 11.88), (89, 10.38), (90, 12.25), (90, 11.13), (91, 11.63), (94, 11.88), (97, 10.0), (98, 7.75), (98, 11.25)]

points = [PTPRJ_pts, WLS_pts, EXT1_pts, KREMEN1_pts,
          ALPL_pts, QPCT_pts, CR1_pts, RASSF5_pts,
          RAB43_pts, SEMA4B_pts, GLT1D1_pts, SLC25A37_pts,
          PIK3CD_pts, LMTK2_pts, IGSF6_pts, ECE1_pts,
          STEAP4_pts, SLC44A2_pts, CSF3R_pts, DOK3_pts]

# panel geometry in page pixels: x of 0, x of 100, y of top value, y of bottom value
panel_px = [(77, 490, 28, 295), (602, 1017, 30, 297), (1129, 1542, 27, 302), (1678, 2090, 30, 298),
            (74, 500, 430, 697), (600, 1025, 429, 698), (1138, 1565, 428, 697), (1687, 2114, 427, 693),
            (77, 502, 872, 1138), (610, 1032, 863, 1132), (1152, 1579, 868, 1135), (1687, 2114, 882, 1147),
            (77, 504, 1283, 1550), (622, 1046, 1288, 1556), (1156, 1582, 1293, 1563), (1692, 2117, 1293, 1562),
            (72, 499, 1697, 1964), (610, 1037, 1700, 1967), (1149, 1575, 1704, 1972), (1695, 2121, 1705, 1972)]
# left x and centre y of the "Pearson" line
stat_px = [(217, 23), (688, 39), (1223, 49), (1792, 45),
           (175, 431), (699, 437), (1236, 435), (1788, 432),
           (180, 889), (694, 889), (1253, 877), (1764, 892),
           (173, 1295), (740, 1298), (1259, 1303), (1793, 1298),
           (166, 1709), (718, 1695), (1238, 1705), (1800, 1717)]

FONT = "Liberation Sans, Arial, sans-serif"
TXT = "#2e2e2e"
AXC = "#1c1c1c"
PAD = 6

fig = go.Figure()
layout = {}
shapes = []
annotations = []

for i, gene in enumerate(genes):
    n = i + 1
    sfx = "" if n == 1 else str(n)
    x0, x100, ytop, ybot = panel_px[i]
    lo, hi, step = y_min[i], y_max[i], y_step[i]
    ppx = (x100 - x0) / 100.0
    ppy = (ybot - ytop) / float(hi - lo)

    fig.add_trace(go.Scatter(
        x=[0, fit_x1[i]], y=[fit_y0[i], fit_y1[i]], mode="lines",
        line=dict(color=AXC, width=6), xaxis="x" + sfx, yaxis="y" + sfx,
        showlegend=False, hoverinfo="skip"))
    fig.add_trace(go.Scatter(
        x=[p[0] for p in points[i]], y=[p[1] for p in points[i]], mode="markers",
        marker=dict(size=11, color="#a9a9a9", line=dict(width=0)),
        xaxis="x" + sfx, yaxis="y" + sfx, showlegend=False))

    tickfont = dict(family=FONT, size=19, color="#3a3a3a")
    layout["xaxis" + sfx] = dict(
        domain=[(x0 - PAD) / W, (x100 + PAD) / W],
        range=[-PAD / ppx, 100 + PAD / ppx], anchor="y" + sfx,
        tickvals=x_ticks, showgrid=False, zeroline=False, showline=False,
        ticks="outside", ticklen=3, tickwidth=5, tickcolor=AXC,
        tickfont=tickfont, ticklabelstandoff=2)
    layout["yaxis" + sfx] = dict(
        domain=[1 - (ybot + PAD) / H, 1 - (ytop - PAD) / H],
        range=[lo - PAD / ppy, hi + PAD / ppy], anchor="x" + sfx,
        tickvals=list(range(lo, hi + 1, step)), showgrid=False, zeroline=False,
        showline=False, ticks="outside", ticklen=2, tickwidth=5, tickcolor=AXC,
        tickfont=tickfont)

    # thick axis lines
    shapes.append(dict(type="line", xref="x" + sfx, yref="y" + sfx, layer="below",
                       x0=0, x1=0, y0=lo - 4.5 / ppy, y1=hi,
                       line=dict(color=AXC, width=9)))
    shapes.append(dict(type="line", xref="x" + sfx, yref="y" + sfx, layer="below",
                       x0=-4.5 / ppx, x1=100.6, y0=lo, y1=lo,
                       line=dict(color=AXC, width=9)))

    # axis titles
    annotations.append(dict(
        text="<i>%s</i> %s" % (gene, y_suffix[i]), xref="paper", yref="paper",
        x=(x0 - 50) / W, y=1 - (ytop + ybot) / 2.0 / H, textangle=-90,
        showarrow=False, xanchor="center", yanchor="middle",
        font=dict(family=FONT, size=22, color=TXT)))
    annotations.append(dict(
        text=x_title, xref="paper", yref="paper",
        x=((x0 + x100) / 2.0 - 4) / W, y=1 - (ybot + 56) / H,
        showarrow=False, xanchor="center", yanchor="middle",
        font=dict(family=FONT, size=23, color=TXT)))

    # statistics
    sx, sy = stat_px[i]
    annotations.append(dict(
        text=r_labels[i], xref="paper", yref="paper", x=sx / W, y=1 - sy / H,
        showarrow=False, xanchor="left", yanchor="middle",
        font=dict(family=FONT, size=22, color=TXT)))
    annotations.append(dict(
        text=p_labels[i], xref="paper", yref="paper", x=(sx - 3) / W, y=1 - (sy + 25) / H,
        showarrow=False, xanchor="left", yanchor="middle",
        font=dict(family=FONT, size=22, color=TXT)))

fig.update_layout(
    width=W, height=H, margin=dict(l=0, r=0, t=0, b=0),
    paper_bgcolor="white", plot_bgcolor="white",
    shapes=shapes, annotations=annotations, **layout)

# page body margin off so the figure sits at the window origin; no modebar
fig.write_html("out.html", config={"displayModeBar": False},
               post_script="document.body.style.margin='0';")
